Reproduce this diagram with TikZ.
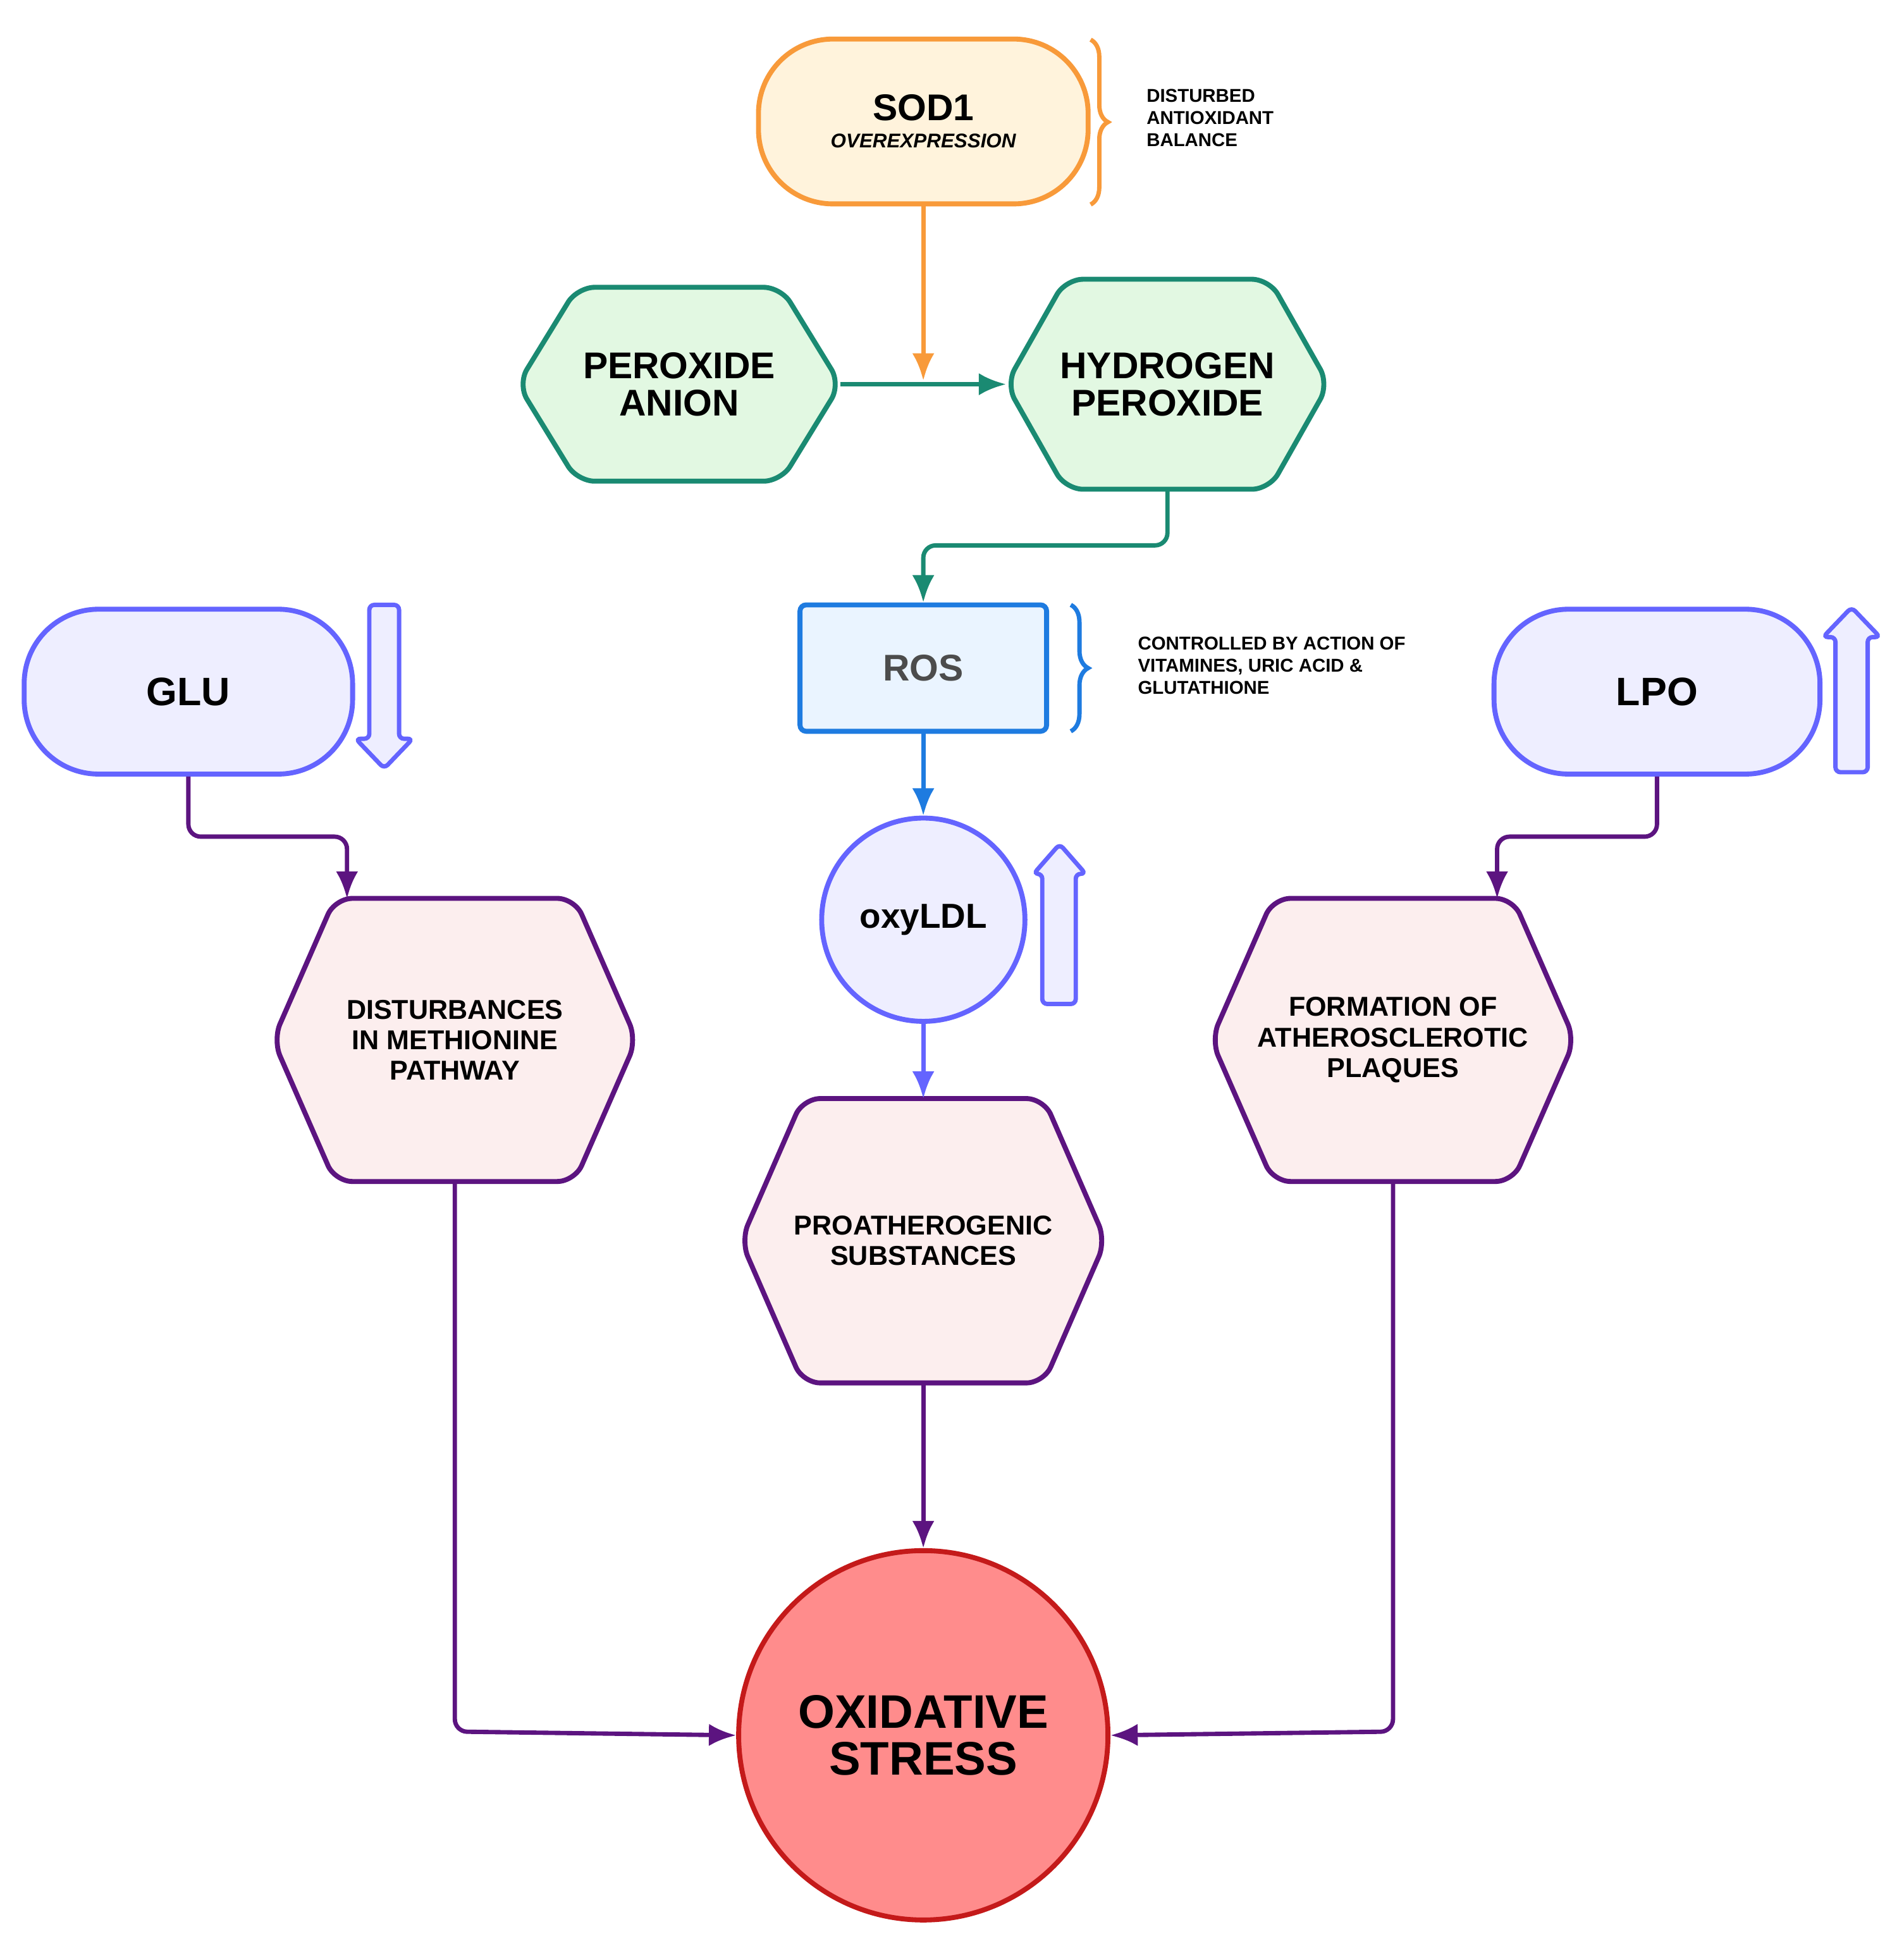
\documentclass[tikz,border=0pt]{standalone}
\usepackage{fontspec}
\setmainfont{Liberation Sans}
\usetikzlibrary{decorations.pathreplacing,backgrounds,calc}
\definecolor{orng}{HTML}{F89A3A}
\definecolor{cream}{HTML}{FFF3DC}
\definecolor{grn}{HTML}{1A8A72}
\definecolor{lgrn}{HTML}{E2F8E2}
\definecolor{blu}{HTML}{1E7BE0}
\definecolor{lblu}{HTML}{EAF4FF}
\definecolor{vio}{HTML}{6464FF}
\definecolor{lvio}{HTML}{EEEEFF}
\definecolor{purp}{HTML}{5C1480}
\definecolor{pink}{HTML}{FCEEEE}
\definecolor{redb}{HTML}{C41A1A}
\definecolor{redf}{HTML}{FF8C8C}
\newcommand{\fs}[1]{\fontsize{#1}{#1}\selectfont}
\newcommand{\hexag}[4]{% name, inset, draw, fill
 \begin{pgfonlayer}{background}
 \draw[line width=4,rounded corners=14,draw=#3,fill=#4] (#1.west) -- ($(#1.north west)+(#2,0)$) -- ($(#1.north east)-(#2,0)$) -- (#1.east) -- ($(#1.south east)-(#2,0)$) -- ($(#1.south west)+(#2,0)$) -- cycle;
 \end{pgfonlayer}}
\begin{document}
\begin{tikzpicture}[x=1pt,y=-1pt,
 every node/.style={inner sep=0,font=\bfseries,align=center},
 hx/.style={rectangle,minimum width=#1},
 ar/.style={line width=3.5,-{Latex[length=22,width=18]}},
 hol/.style={draw=vio,line width=3.5,fill=lvio,rounded corners=4},
 br/.style={decorate,decoration={brace,amplitude=14},line width=3.5}]
\useasboundingbox (0,0) rectangle (1536,1570);
\usetikzlibrary{arrows.meta}
% SOD1
\node[draw=orng,fill=cream,line width=4,rounded corners=60,minimum width=266,minimum height=133] (sod) at (745,98) {\fs{30}SOD1\\[10pt]\fs{16}\itshape OVEREXPRESSION};
\draw[br,orng] (880,32) -- (880,165);
\node[anchor=west,align=left,font=\bfseries\fs{15}] (t1) at (925,95) {DISTURBED\\[3pt]ANTIOXIDANT\\[3pt]BALANCE};
% hexagons top
\node[hx=260,minimum height=156] (pa) at (548,310) {\fs{30}PEROXIDE\\[8pt]\fs{30}ANION};
\hexag{pa}{48}{grn}{lgrn}
\node[hx=260,minimum height=169] (hp) at (942,310) {\fs{30}HYDROGEN\\[8pt]\fs{30}PEROXIDE};
\hexag{hp}{48}{grn}{lgrn}
\coordinate (j1) at (745,307);
\draw[ar,orng] (sod.south) -- (j1);
\draw[ar,grn] (pa.east) -- (hp.west);
% ROS
\node[draw=blu,fill=lblu,line width=4,rounded corners=5,minimum width=199,minimum height=102,text=black!70] (ros) at (745,539) {\fs{30}ROS};
\draw[ar,grn,rounded corners=10] (hp.south) -- (942,440) -- (745,440) -- (ros.north);
\draw[br,blu] (864,488) -- (864,590);
\node[anchor=west,align=left,font=\bfseries\fs{15}] (t2) at (918,537) {CONTROLLED BY ACTION OF\\[3pt]VITAMINES, URIC ACID \&\\[3pt]GLUTATHIONE};
% oxyLDL
\node[circle,draw=vio,fill=lvio,line width=4,minimum size=164] (ox) at (745,742) {\fs{28}oxyLDL};
\draw[ar,blu] (ros.south) -- (ox.north);
\draw[hol] (841,810) -- (841,705) -- (834,705) -- (855,681) -- (876,705) -- (868,705) -- (868,810) -- cycle;
% Proatherogenic
\node[hx=294,minimum height=229] (pro) at (745,1001) {\fs{22}PROATHEROGENIC\\[8pt]\fs{22}SUBSTANCES};
\hexag{pro}{50}{purp}{pink}
\draw[ar,vio] (ox.south) -- (pro.north);
% Oxidative stress
\node[circle,draw=redb,fill=redf,line width=4,minimum size=298] (os) at (745,1400) {\fs{38}OXIDATIVE\\[10pt]\fs{38}STRESS};
\draw[ar,purp] (pro.south) -- (os.north);
% GLU
\node[draw=vio,fill=lvio,line width=4,rounded corners=60,minimum width=265,minimum height=133] (glu) at (152,558) {\fs{32}GLU};
\draw[hol] (298,488) -- (322,488) -- (322,596) -- (333,596) -- (310,620) -- (287,596) -- (298,596) -- cycle;
\node[hx=293,minimum height=228] (dis) at (367,839) {\fs{22}DISTURBANCES\\[8pt]\fs{22}IN METHIONINE\\[8pt]\fs{22}PATHWAY};
\hexag{dis}{50}{purp}{pink}
\draw[ar,purp,rounded corners=10] (glu.south) -- (152,675) -- (280,675) -- (280,725);
\draw[ar,purp,rounded corners=10] (dis.south) -- (367,1397) -- (os.west);
% LPO
\node[draw=vio,fill=lvio,line width=4,rounded corners=60,minimum width=263,minimum height=133] (lpo) at (1337,558) {\fs{32}LPO};
\draw[hol] (1481,623) -- (1481,514) -- (1471,514) -- (1494,490) -- (1517,514) -- (1507,514) -- (1507,623) -- cycle;
\node[hx=293,minimum height=228] (fo) at (1124,839) {\fs{22}FORMATION OF\\[8pt]\fs{22}ATHEROSCLEROTIC\\[8pt]\fs{22}PLAQUES};
\hexag{fo}{50}{purp}{pink}
\draw[ar,purp,rounded corners=10] (lpo.south) -- (1337,675) -- (1208,675) -- (1208,725);
\draw[ar,purp,rounded corners=10] (fo.south) -- (1124,1397) -- (os.east);
\end{tikzpicture}
\end{document}
